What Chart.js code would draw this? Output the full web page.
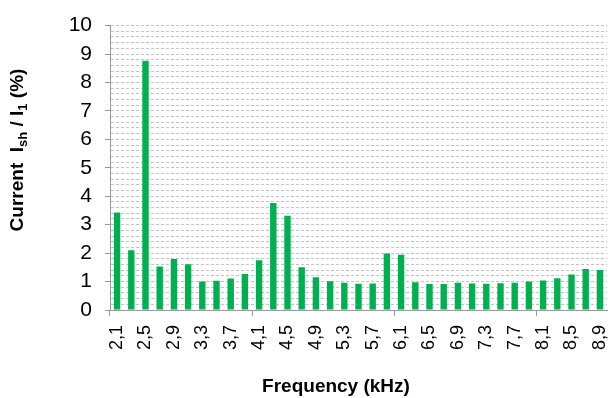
<!DOCTYPE html>
<html>
<head>
<meta charset="utf-8">
<script src="https://cdn.jsdelivr.net/npm/chart.js@4.4.0/dist/chart.umd.min.js"></script>
<style>
    html, body { margin: 0; padding: 0; background: #fff; }
    #wrap { width: 611px; height: 398px; }
</style>
</head>
<body>
<div id="wrap"><canvas id="harmChart" width="611" height="398"></canvas></div>
<script>
// Frequency bins (kHz), comma as decimal separator like the source
const frequencies = ['2,1', '2,3', '2,5', '2,7', '2,9', '3,1', '3,3', '3,5', '3,7', '3,9',
    '4,1', '4,3', '4,5', '4,7', '4,9', '5,1', '5,3', '5,5', '5,7', '5,9',
    '6,1', '6,3', '6,5', '6,7', '6,9', '7,1', '7,3', '7,5', '7,7', '7,9',
    '8,1', '8,3', '8,5', '8,7', '8,9'];

// Current Ish / I1 in %
const currentPct = [3.43, 2.10, 8.76, 1.53, 1.79, 1.61, 1.00, 1.03, 1.11, 1.27,
    1.75, 3.76, 3.31, 1.50, 1.15, 1.01, 0.96, 0.92, 0.93, 1.99,
    1.94, 0.98, 0.91, 0.91, 0.96, 0.93, 0.92, 0.94, 0.96, 1.00,
    1.04, 1.12, 1.25, 1.44, 1.41];

const yMin = 0;
const yMax = 10;
const yStep = 0.2;

const FONT = 'Liberation Sans, Arial, sans-serif';

// axis titles drawn by hand: the y one needs subscripts
const titlesPlugin = {
    id: 'axisTitles',
    afterDraw(chart) {
        const { ctx } = chart;
        const parts = [
            { t: 'Current  I', size: 19, dy: 0 },
            { t: 'sh', size: 13, dy: 5 },
            { t: ' / I', size: 19, dy: 0 },
            { t: '1', size: 13, dy: 5 },
            { t: ' (%)', size: 19, dy: 0 },
        ];
        ctx.save();
        ctx.fillStyle = '#000';
        ctx.textBaseline = 'middle';
        ctx.textAlign = 'left';
        let total = 0;
        parts.forEach(p => {
            ctx.font = `bold ${p.size}px ${FONT}`;
            p.w = ctx.measureText(p.t).width;
            total += p.w;
        });
        ctx.translate(18, 150);
        ctx.rotate(-Math.PI / 2);
        let x = -total / 2;
        parts.forEach(p => {
            ctx.font = `bold ${p.size}px ${FONT}`;
            ctx.fillText(p.t, x, p.dy);
            x += p.w;
        });
        ctx.restore();

        ctx.save();
        ctx.fillStyle = '#000';
        ctx.font = `bold 19px ${FONT}`;
        ctx.textAlign = 'center';
        ctx.textBaseline = 'middle';
        ctx.fillText('Frequency (kHz)', 336, 387);
        ctx.restore();
    }
};

const isMajor = v => Math.abs(v - Math.round(v)) < 1e-6;

new Chart(document.getElementById('harmChart'), {
    type: 'bar',
    data: {
        labels: frequencies,
        datasets: [{
            data: currentPct,
            backgroundColor: '#00b050',
            borderWidth: 0,
            barPercentage: 0.45,
            categoryPercentage: 1.0,
        }]
    },
    options: {
        responsive: false,
        animation: false,
        layout: { padding: { top: 20, right: 4, left: 0, bottom: 0 } },
        plugins: {
            legend: { display: false },
            tooltip: { enabled: false },
        },
        scales: {
            x: {
                afterFit: axis => {
                    axis.height = 88;
                    axis.paddingLeft = 0;
                    axis.paddingRight = 0;
                },
                grid: {
                    offset: true,
                    drawOnChartArea: false,
                    tickLength: 6,
                    color: c => (c.index % 10 === 0 ? '#999' : 'rgba(0,0,0,0)'),
                },
                border: { color: '#999' },
                ticks: {
                    autoSkip: false,
                    minRotation: 90,
                    maxRotation: 90,
                    padding: 9,
                    color: '#000',
                    font: { family: FONT, size: 18 },
                    callback: (v, i) => (i % 2 === 0 ? frequencies[i] : ''),
                },
            },
            y: {
                min: yMin,
                max: yMax,
                afterFit: axis => { axis.width = 110; },
                grid: {
                    color: '#c4c4c4',
                    lineWidth: 1,
                    tickLength: 5,
                    tickColor: c => (isMajor(c.tick.value) ? '#999' : 'rgba(0,0,0,0)'),
                    tickBorderDash: [],
                },
                border: { color: '#999', dash: [3, 2] },
                ticks: {
                    stepSize: yStep,
                    autoSkip: false,
                    padding: 13,
                    color: '#000',
                    font: { family: FONT, size: 21 },
                    callback: v => (isMajor(v) ? Math.round(v).toString() : ''),
                },
            },
        },
    },
    plugins: [titlesPlugin],
});
</script>
</body>
</html>
